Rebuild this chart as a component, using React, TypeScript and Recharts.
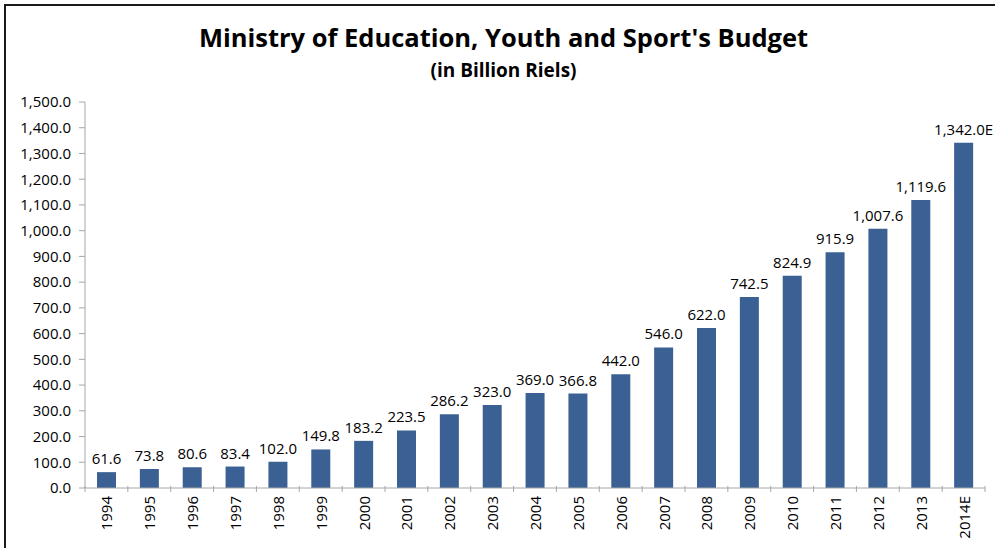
import { Bar, BarChart, LabelList, XAxis, YAxis } from "recharts";

const years = [
  "1994", "1995", "1996", "1997", "1998", "1999", "2000", "2001", "2002", "2003", "2004",
  "2005", "2006", "2007", "2008", "2009", "2010", "2011", "2012", "2013", "2014E",
];
const budget = [
  61.6, 73.8, 80.6, 83.4, 102.0, 149.8, 183.2, 223.5, 286.2, 323.0, 369.0,
  366.8, 442.0, 546.0, 622.0, 742.5, 824.9, 915.9, 1007.6, 1119.6, 1342.0,
];
const valueLabels = [
  "61.6", "73.8", "80.6", "83.4", "102.0", "149.8", "183.2", "223.5", "286.2", "323.0", "369.0",
  "366.8", "442.0", "546.0", "622.0", "742.5", "824.9", "915.9", "1,007.6", "1,119.6", "1,342.0E",
];
const yTicks = [0, 100, 200, 300, 400, 500, 600, 700, 800, 900, 1000, 1100, 1200, 1300, 1400, 1500];

const W = 995;
const H = 548;
const LEFT = 85;
const RIGHT = 10;
const band = (W - LEFT - RIGHT) / years.length;
const font = "'Open Sans', sans-serif";

const data = years.map((year, i) => ({ year, value: budget[i], label: valueLabels[i] }));

const fmt = (v: number) => v.toLocaleString("en-US", { minimumFractionDigits: 1, maximumFractionDigits: 1 });

function YearTick(props: any) {
  const { x, y, payload, index } = props;
  const last = index === years.length - 1;
  return (
    <g>
      <line x1={x - band / 2} x2={x - band / 2} y1={y - 8} y2={y - 2} stroke="#A6A6A6" />
      {last && <line x1={x + band / 2} x2={x + band / 2} y1={y - 8} y2={y - 2} stroke="#A6A6A6" />}
      <text
        x={x}
        y={y + 2}
        transform={`rotate(-90, ${x}, ${y + 2})`}
        textAnchor="end"
        dominantBaseline="central"
        fontSize={15}
        fontFamily={font}
        fill="#000"
      >
        {payload.value}
      </text>
    </g>
  );
}

export default function App() {
  return (
    <div style={{ position: "fixed", left: 0, top: 0, width: W, height: H, background: "#fff" }}>
      <div
        style={{
          position: "absolute",
          left: 4,
          top: 4,
          right: 0,
          bottom: 0,
          borderTop: "2px solid #1a1a1a",
          borderLeft: "2px solid #1a1a1a",
        }}
      />
      <div
        style={{
          position: "absolute",
          left: 0,
          width: W,
          top: 20,
          textAlign: "center",
          fontFamily: font,
          fontWeight: 700,
          color: "#000",
        }}
      >
        <div style={{ fontSize: 25.5, lineHeight: "34px", paddingLeft: 12 }}>Ministry of Education, Youth and Sport's Budget</div>
        <div style={{ fontSize: 19, lineHeight: "32px", paddingLeft: 12 }}>(in Billion Riels)</div>
      </div>
      <div style={{ position: "absolute", left: 0, top: 0 }}>
        <BarChart
          width={W}
          height={H}
          data={data}
          margin={{ top: 102, right: RIGHT, bottom: 0, left: 0 }}
          barCategoryGap={0}
        >
          <XAxis
            dataKey="year"
            interval={0}
            height={H - 488}
            stroke="#A6A6A6"
            tickLine={false}
            tick={<YearTick />}
            tickMargin={0}
          />
          <YAxis
            width={LEFT}
            domain={[0, 1500]}
            ticks={yTicks}
            interval={0}
            tickFormatter={fmt}
            stroke="#A6A6A6"
            tickSize={6}
            tickMargin={8}
            tick={{ fontSize: 15, fontFamily: font, fill: "#000" }}
          />
          <Bar dataKey="value" fill="#3A6094" barSize={19} isAnimationActive={false}>
            <LabelList
              dataKey="label"
              position="top"
              offset={8}
              style={{ fontSize: 15, fontFamily: font, fill: "#000" }}
            />
          </Bar>
        </BarChart>
      </div>
    </div>
  );
}
